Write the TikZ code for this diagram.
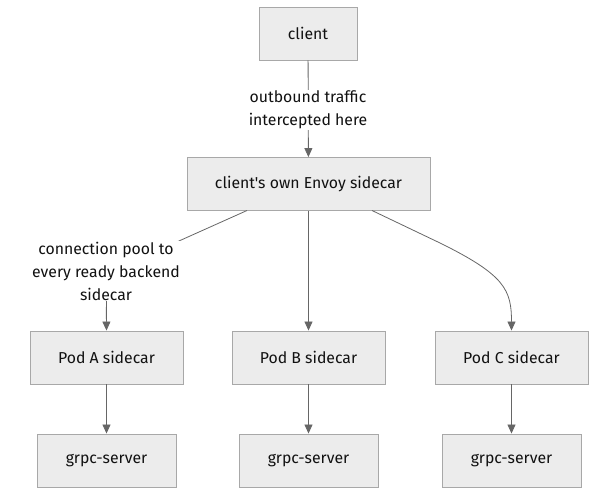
\documentclass[tikz,border=0pt]{standalone}
\usepackage{fontspec}
\setmainfont{Fira Sans}[Ligatures=TeXOff]
\usetikzlibrary{arrows.meta}
\definecolor{boxfill}{HTML}{ECECEC}
\definecolor{boxline}{HTML}{A8A8A8}
\definecolor{edgecol}{HTML}{666666}
\definecolor{txt}{HTML}{111111}
\begin{document}
\begin{tikzpicture}[x=1pt,y=-1pt,
  box/.style={draw=boxline, fill=boxfill, line width=0.9pt, minimum height=53pt, inner sep=0pt, text=txt, font=\fontsize{15.8}{18}\selectfont},
  lbl/.style={fill=white, align=center, inner sep=1pt, text=txt, font=\fontsize{15.8}{23}\selectfont},
  edge/.style={draw=edgecol, line width=0.8pt, -{Triangle[length=9pt,width=8pt]}}]
\path[use as bounding box] (0,0) rectangle (605,502);
\node[box, minimum width=98pt] (client) at (308,33.5) {client};
\node[box, minimum width=243pt] (envoy) at (308.5,184) {client's own Envoy sidecar};
\node[box, minimum width=153pt] (podA) at (106.5,357.5) {Pod A sidecar};
\node[box, minimum width=153pt] (podB) at (308.5,357.5) {Pod B sidecar};
\node[box, minimum width=153pt] (podC) at (511.5,357.5) {Pod C sidecar};
\node[box, minimum width=139pt] (srvA) at (106.5,460.5) {grpc-server};
\node[box, minimum width=139pt] (srvB) at (308.5,460.5) {grpc-server};
\node[box, minimum width=139pt] (srvC) at (511.5,460.5) {grpc-server};
\coordinate (eA) at (247,210.5);
\coordinate (eC) at (372,210.5);
\draw[edge] (client) -- (envoy);
\draw[edge] (eA) -- (170,245) .. controls (106,275) .. (podA.north);
\draw[edge] (envoy) -- (podB);
\draw[edge] (eC) -- (440,243) .. controls (505,275) and (511.5,290) .. (podC.north);
\draw[edge] (podA) -- (srvA);
\draw[edge] (podB) -- (srvB);
\draw[edge] (podC) -- (srvC);
\node[lbl] (l1) at (308,110) {outbound traffic\\intercepted here};
\node[lbl] (l2) at (106,271) {connection pool to\\every ready backend\\sidecar};
\end{tikzpicture}
\end{document}
